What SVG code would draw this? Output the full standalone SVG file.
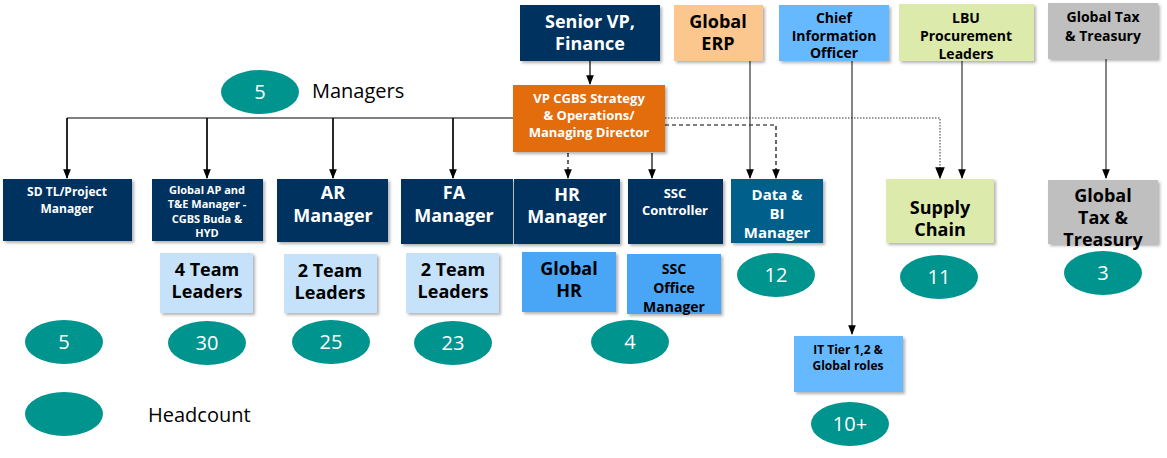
<svg xmlns="http://www.w3.org/2000/svg" width="1167" height="458" viewBox="0 0 1167 458">
<style>
text{font-family:"Open Sans","Noto Sans","Liberation Sans",sans-serif;font-weight:bold;text-anchor:middle}
.n{fill:#003360}.w{fill:#fff}.k{fill:#000}
.e{fill:#00948F}
.et{fill:#fff;font-weight:normal;font-size:20px}
.ln{stroke:#000;stroke-width:1.2;fill:none}
.g{stroke:#333;stroke-width:1.2;fill:none}
rect{filter:url(#sh)}
</style>
<defs>
<marker id="a" viewBox="0 0 10 10" refX="9" refY="5" markerWidth="8" markerHeight="8" orient="auto"><path d="M0,1L10,5L0,9z" fill="#000"/></marker>
<filter id="sh" x="-10%" y="-10%" width="130%" height="130%"><feDropShadow dx="2" dy="2" stdDeviation="1.5" flood-opacity="0.3"/></filter>
</defs>
<g id="connectors">
<path class="ln" d="M590,61V84" marker-end="url(#a)"/>
<path class="ln" d="M67,118H513M67,118V178M207,118V178M333,118V178M453,118V178" />
<path class="ln" d="M67,118V178" marker-end="url(#a)"/>
<path class="ln" d="M207,118V178" marker-end="url(#a)"/>
<path class="ln" d="M333,118V178" marker-end="url(#a)"/>
<path class="ln" d="M453,118V178" marker-end="url(#a)"/>
<path class="ln" d="M568,153V178" stroke-dasharray="4,3" marker-end="url(#a)"/>
<path class="ln" d="M652,153V178" marker-end="url(#a)"/>
<path class="ln" d="M665,125H776V178" stroke-dasharray="4,3" marker-end="url(#a)"/>
<path d="M665,118H940V178" stroke="#777" stroke-width="1.5" fill="none" stroke-dasharray="1.5,1.5" marker-end="url(#a)"/>
<path class="g" d="M750,61V178" marker-end="url(#a)"/>
<path class="g" d="M852,61V334" marker-end="url(#a)"/>
<path class="g" d="M962,61V178" marker-end="url(#a)"/>
<path class="g" d="M1106,59V178" marker-end="url(#a)"/>
</g>
<g id="svp"><rect x="520" y="5" width="140" height="56" class="n"/><text class="w" font-size="18" x="590" y="28">Senior VP,</text><text class="w" font-size="18" x="590" y="50">Finance</text></g>
<g id="erp"><rect x="674" y="5" width="89" height="56" fill="#FCC78E"/><text class="k" font-size="18" x="718" y="28">Global</text><text class="k" font-size="18" x="718" y="50">ERP</text></g>
<g id="cio"><rect x="779" y="5" width="110" height="56" fill="#66B8FF"/><text class="k" font-size="14" x="834" y="23">Chief</text><text class="k" font-size="14" x="834" y="41">Information</text><text class="k" font-size="14" x="834" y="58">Officer</text></g>
<g id="lbu"><rect x="899" y="4" width="135" height="57" fill="#DCEAAC"/><text class="k" font-size="14" x="966" y="23">LBU</text><text class="k" font-size="14" x="966" y="41">Procurement</text><text class="k" font-size="14" x="966" y="59">Leaders</text></g>
<g id="taxtop"><rect x="1048" y="3" width="110" height="56" fill="#BFBFBF"/><text class="k" font-size="14" x="1103" y="22">Global Tax</text><text class="k" font-size="14" x="1103" y="41">&amp; Treasury</text></g>
<g id="vp"><rect x="513" y="85" width="152" height="67" fill="#E36C09"/><text class="w" font-size="13" x="589" y="103">VP CGBS Strategy</text><text class="w" font-size="13" x="589" y="120">&amp; Operations/</text><text class="w" font-size="13" x="589" y="137">Managing Director</text></g>
<g id="sdtl"><rect x="3" y="179" width="129" height="62" class="n"/><text class="w" font-size="12" x="67" y="196">SD TL/Project</text><text class="w" font-size="12" x="67" y="213">Manager</text></g>
<g id="ap"><rect x="152" y="179" width="111" height="62" class="n"/><text class="w" font-size="11" x="207" y="194">Global AP and</text><text class="w" font-size="11" x="207" y="208">T&amp;E Manager -</text><text class="w" font-size="11" x="207" y="223">CGBS Buda &amp;</text><text class="w" font-size="11" x="207" y="237">HYD</text></g>
<g id="ar"><rect x="277" y="179" width="111" height="63" class="n"/><text class="w" font-size="18" x="333" y="199">AR</text><text class="w" font-size="18" x="333" y="222">Manager</text></g>
<g id="fa"><rect x="401" y="179" width="112" height="65" class="n"/><text class="w" font-size="18" x="454" y="199">FA</text><text class="w" font-size="18" x="454" y="222">Manager</text></g>
<g id="hr"><rect x="514" y="179" width="106" height="65" class="n"/><text class="w" font-size="18" x="567" y="201">HR</text><text class="w" font-size="18" x="567" y="223">Manager</text></g>
<g id="sscc"><rect x="628" y="179" width="95" height="65" class="n"/><text class="w" font-size="13" x="675" y="198">SSC</text><text class="w" font-size="13" x="675" y="215">Controller</text></g>
<g id="bi"><rect x="731" y="179" width="92" height="64" fill="#00618B"/><text class="w" font-size="15" x="777" y="200">Data &amp;</text><text class="w" font-size="15" x="777" y="219">BI</text><text class="w" font-size="15" x="777" y="238">Manager</text></g>
<g id="sc"><rect x="886" y="179" width="108" height="64" fill="#DCEAAC"/><text class="k" font-size="18" x="940" y="214">Supply</text><text class="k" font-size="18" x="940" y="236">Chain</text></g>
<g id="tax2"><rect x="1048" y="180" width="110" height="64" fill="#BFBFBF"/><text class="k" font-size="18" x="1103" y="202">Global</text><text class="k" font-size="18" x="1103" y="224">Tax &amp;</text><text class="k" font-size="18" x="1103" y="246">Treasury</text></g>
<g id="tl4"><rect x="160" y="253" width="93" height="60" fill="#C5E2FA"/><text class="k" font-size="18" x="207" y="276">4 Team</text><text class="k" font-size="18" x="207" y="298">Leaders</text></g>
<g id="tl2a"><rect x="284" y="254" width="93" height="59" fill="#C5E2FA"/><text class="k" font-size="18" x="330" y="277">2 Team</text><text class="k" font-size="18" x="330" y="299">Leaders</text></g>
<g id="tl2b"><rect x="406" y="253" width="93" height="60" fill="#C5E2FA"/><text class="k" font-size="18" x="453" y="276">2 Team</text><text class="k" font-size="18" x="453" y="298">Leaders</text></g>
<g id="ghr"><rect x="522" y="252" width="94" height="60" fill="#4AA5F5"/><text class="k" font-size="18" x="569" y="275">Global</text><text class="k" font-size="18" x="569" y="297">HR</text></g>
<g id="sscom"><rect x="627" y="254" width="94" height="60" fill="#4AA5F5"/><text class="k" font-size="14" x="674" y="274">SSC</text><text class="k" font-size="14" x="674" y="293">Office</text><text class="k" font-size="14" x="674" y="312">Manager</text></g>
<g id="it"><rect x="794" y="336" width="109" height="56" fill="#66B8FF"/><text class="k" font-size="12" x="848" y="354">IT  Tier 1,2 &amp;</text><text class="k" font-size="12" x="848" y="370">Global roles</text></g>
<g id="ellipses">
<ellipse class="e" cx="260" cy="92" rx="39" ry="22"/><text class="et" x="260" y="99">5</text>
<ellipse class="e" cx="776" cy="275" rx="39" ry="22"/><text class="et" x="776" y="282">12</text>
<ellipse class="e" cx="939" cy="277" rx="39" ry="22"/><text class="et" x="939" y="284">11</text>
<ellipse class="e" cx="1103" cy="273" rx="39" ry="22"/><text class="et" x="1103" y="280">3</text>
<ellipse class="e" cx="64" cy="342" rx="39" ry="22"/><text class="et" x="64" y="349">5</text>
<ellipse class="e" cx="207" cy="343" rx="39" ry="22"/><text class="et" x="207" y="350">30</text>
<ellipse class="e" cx="331" cy="342" rx="39" ry="22"/><text class="et" x="331" y="349">25</text>
<ellipse class="e" cx="453" cy="343" rx="39" ry="22"/><text class="et" x="453" y="350">23</text>
<ellipse class="e" cx="630" cy="342" rx="39" ry="22"/><text class="et" x="630" y="349">4</text>
<ellipse class="e" cx="850" cy="424" rx="39" ry="22"/><text class="et" x="850" y="431">10+</text>
<ellipse class="e" cx="64" cy="414" rx="39" ry="22"/>
</g>
<text x="312" y="98" font-size="20" style="font-weight:normal;text-anchor:start" fill="#000">Managers</text>
<text x="148" y="422" font-size="20" style="font-weight:normal;text-anchor:start" fill="#000">Headcount</text>
</svg>
